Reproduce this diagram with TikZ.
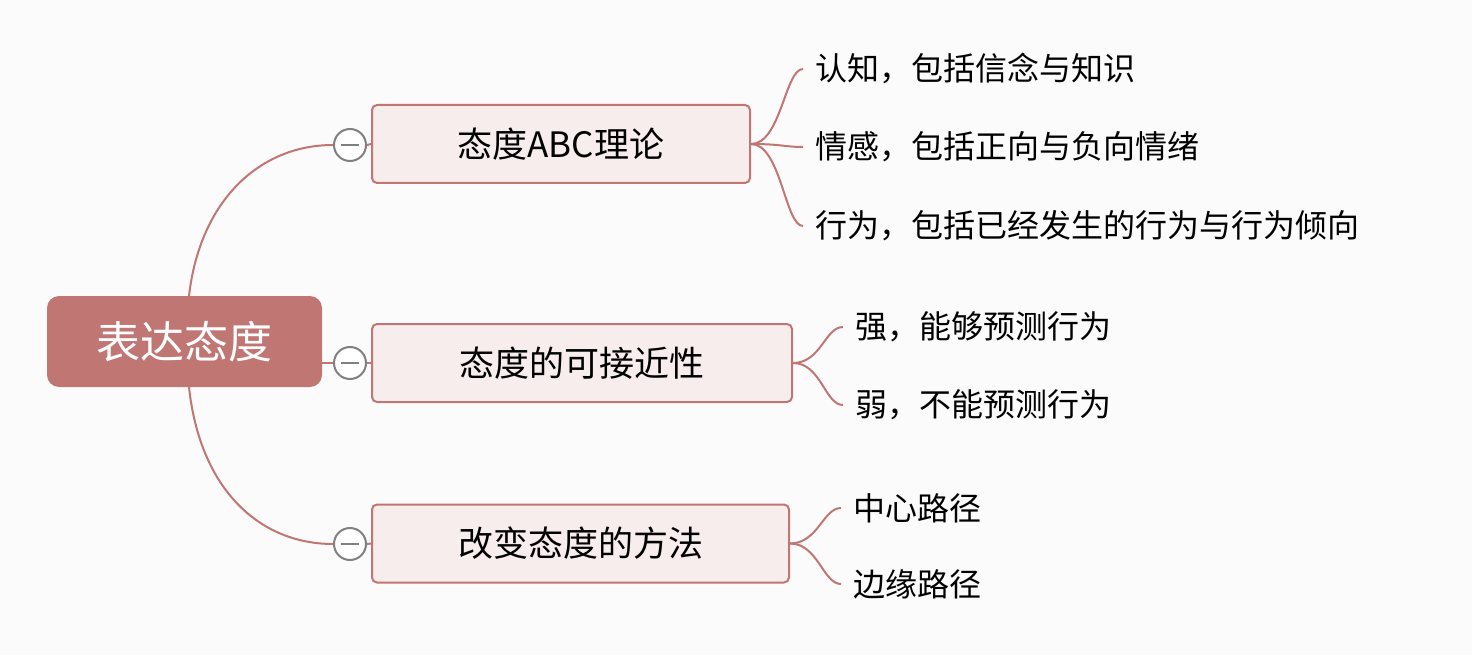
\documentclass[tikz,border=0pt]{standalone}
\usepackage{fontspec}
\newfontfamily\cjk{Noto Sans CJK SC}
\definecolor{rootc}{HTML}{C07673}
\definecolor{boxf}{HTML}{F7EDED}
\definecolor{bg}{HTML}{FBFBFB}
\begin{document}
\begin{tikzpicture}[x=1pt,y=-1pt,
  rootbox/.style={draw=none,fill=rootc,rounded corners=12pt,text=white,font=\cjk\fontsize{44}{48}\selectfont,minimum width=275pt,minimum height=91pt,inner sep=0pt},
  branch/.style={draw=rootc,line width=2pt,fill=boxf,rounded corners=5pt,font=\cjk\fontsize{35}{40}\selectfont,minimum height=78pt,inner sep=0pt},
  leaf/.style={anchor=west,font=\cjk\fontsize{32}{38}\selectfont,inner sep=0pt},
  conn/.style={draw=rootc,line width=2pt},
  fold/.style={circle,draw=gray,line width=2pt,fill=white,minimum size=32pt,inner sep=0pt}]
\fill[bg] (0,0) rectangle (1472,655);
\useasboundingbox (0,0) rectangle (1472,655);
\node[rootbox] (root) at (184.5,341.5) {表达态度};
\node[branch,minimum width=378pt] (b1) at (561,144) {态度ABC理论};
\node[branch,minimum width=420pt] (b2) at (582,363) {态度的可接近性};
\node[branch,minimum width=417pt] (b3) at (580.5,543.5) {改变态度的方法};
\node[fold] (c1) at (350,145) {};
\node[fold] (c2) at (350,363) {};
\node[fold] (c3) at (350,544) {};
\foreach \c in {c1,c2,c3} \draw[gray,line width=2pt] ([xshift=-9pt]\c.center) -- ([xshift=9pt]\c.center);
\coordinate (rt) at (189,296);
\coordinate (rb) at (189,387);
\draw[conn] (rt) .. controls (200,200) and (260,145) .. (c1.west);
\draw[conn] (root.east |- c2) -- (c2.west);
\draw[conn] (rb) .. controls (200,490) and (260,544) .. (c3.west);
\foreach \c/\b in {c1/b1,c2/b2,c3/b3} \draw[conn] (\c.east) -- (\b.west);
\node[leaf] (l1) at (815,69) {认知，包括信念与知识};
\node[leaf] (l2) at (815,147) {情感，包括正向与负向情绪};
\node[leaf] (l3) at (815,226) {行为，包括已经发生的行为与行为倾向};
\node[leaf] (l4) at (855,327) {强，能够预测行为};
\node[leaf] (l5) at (855,405) {弱，不能预测行为};
\node[leaf] (l6) at (853,508) {中心路径};
\node[leaf] (l7) at (853,584) {边缘路径};
\foreach \b/\l in {b1/l1,b1/l2,b1/l3}
  \draw[conn] (\b.east) .. controls ([xshift=30pt]\b.east) and ([xshift=-30pt]\l.west) .. ([xshift=-12pt]\l.west);
\foreach \b/\l in {b2/l4,b2/l5,b3/l6,b3/l7}
  \draw[conn] (\b.east) .. controls ([xshift=28pt]\b.east) and ([xshift=-30pt]\l.west) .. ([xshift=-12pt]\l.west);
\end{tikzpicture}
\end{document}
